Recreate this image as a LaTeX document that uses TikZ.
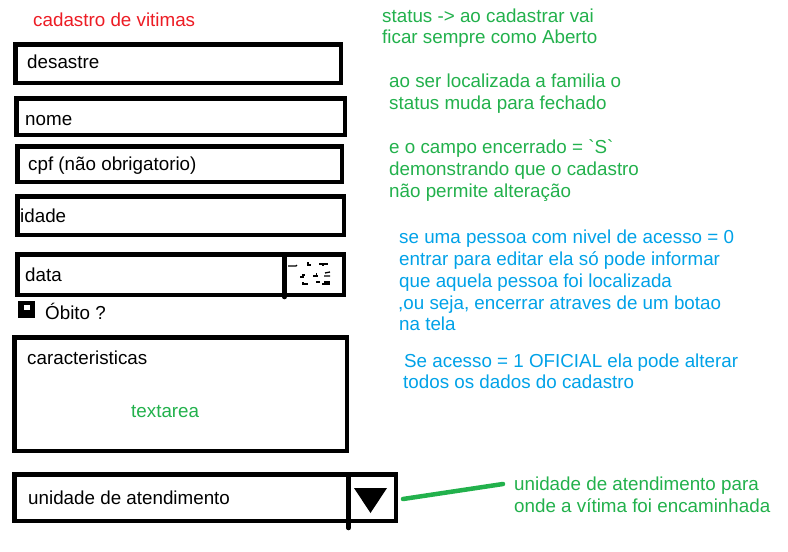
\documentclass[tikz,border=0pt]{standalone}
\usepackage{fontspec}
\setmainfont{Liberation Sans}
\definecolor{pred}{RGB}{237,28,36}
\definecolor{pgreen}{RGB}{34,177,76}
\definecolor{pblue}{RGB}{0,162,232}
\begin{document}
\begin{tikzpicture}[x=1pt,y=-1pt,
  txt/.style={inner sep=0pt,anchor=base west,font=\fontsize{18.8}{22}\selectfont},
  field/.style={draw=black,line width=4.5pt},
  divider/.style={draw=black,line width=4.5pt,line cap=round},
  scrib/.style={draw=black,line width=1.3pt},
  note/.style={draw=pgreen,line width=4.5pt,line cap=round}]
\useasboundingbox[fill=white] (0,0) rectangle (788,552);
% title
\node[txt,text=pred] (title) at (33,26) {cadastro de vitimas};
% fields
\draw[field] (15.25,44.25) rectangle (340.75,82.75);
\node[txt] (tdes) at (27,68) {desastre};
\draw[field] (16.25,98.25) rectangle (344.75,134.75);
\node[txt] (tnome) at (25,125) {nome};
\draw[field] (17.25,146.25) rectangle (341.75,181.75);
\node[txt] (tcpf) at (28,170) {cpf (não obrigatorio)};
\draw[field] (17.25,196.25) rectangle (343.75,234.75);
\node[txt] (tidade) at (20,222) {idade};
\draw[field] (17.25,254.25) rectangle (343.75,294.75);
\node[txt] (tdata) at (25,281) {data};
\draw[divider] (284.5,256) -- (284.5,297);
% date picker scribbles
\draw[scrib] (288,266) -- (296,266) -- (297,265);
\draw[scrib] (308,262) -- (308,265) -- (311,265);
\draw[scrib] (319,264) -- (328,264) (323,264) -- (323,266);
\draw[scrib] (300,277) -- (303,277) -- (303,275) -- (305,275);
\draw[scrib] (313,276) -- (318,276) (316,274) -- (317,274);
\draw[scrib] (324,276) -- (330,276) (325,273) -- (330,272);
\draw[scrib] (302,284) -- (308,284) (303,282) -- (303,284);
\draw[scrib] (316,282) -- (320,282);
\draw[scrib] (322,284) -- (330,284) (324,282) -- (330,282);
% checkbox
\fill[black] (18,301) rectangle (35,318);
\fill[white] (24,305) rectangle (30,310);
\node[txt] (tobito) at (45,319) {Óbito ?};
% textarea
\draw[field] (14.25,337.25) rectangle (346.75,450.75);
\node[txt] (tcar) at (27,364) {caracteristicas};
\node[txt,text=pgreen] (tarea) at (131,417) {textarea};
% select
\draw[field] (14.25,474.25) rectangle (395.75,520.75);
\node[txt] (tunid) at (28,504) {unidade de atendimento};
\draw[divider] (348.5,476) -- (348.5,528);
\fill[black] (354,488) -- (387,488) -- (370.5,513) -- cycle;
\coordinate (selright) at (403,499);
% green notes
\node[txt,text=pgreen] (g1a) at (382,22) {status -> ao cadastrar vai};
\node[txt,text=pgreen] (g1b) at (382,43) {ficar sempre como Aberto};
\node[txt,text=pgreen] (g2a) at (389,87) {ao ser localizada a familia o};
\node[txt,text=pgreen] (g2b) at (389,109) {status muda para fechado};
\node[txt,text=pgreen] (g3a) at (389,153) {e o campo encerrado = \textasciigrave S\textasciigrave};
\node[txt,text=pgreen] (g3b) at (389,175) {demonstrando que o cadastro};
\node[txt,text=pgreen] (g3c) at (389,197) {não permite alteração};
% blue notes
\node[txt,text=pblue] (b1a) at (399,243) {se uma pessoa com nivel de acesso = 0};
\node[txt,text=pblue] (b1b) at (399,265) {entrar para editar ela só pode informar};
\node[txt,text=pblue] (b1c) at (399,287) {que aquela pessoa foi localizada};
\node[txt,text=pblue] (b1d) at (398,309) {,ou seja, encerrar atraves de um botao};
\node[txt,text=pblue] (b1e) at (399,330) {na tela};
\node[txt,text=pblue] (b2a) at (404,367) {Se acesso = 1 OFICIAL ela pode alterar};
\node[txt,text=pblue] (b2b) at (403,388) {todos os dados do cadastro};
% bottom note
\node[txt,text=pgreen] (n1a) at (514,490) {unidade de atendimento para};
\node[txt,text=pgreen] (n1b) at (514,512) {onde a vítima foi encaminhada};
\coordinate (noteleft) at (503,484);
\draw[note] (selright) -- (noteleft);
\end{tikzpicture}
\end{document}
